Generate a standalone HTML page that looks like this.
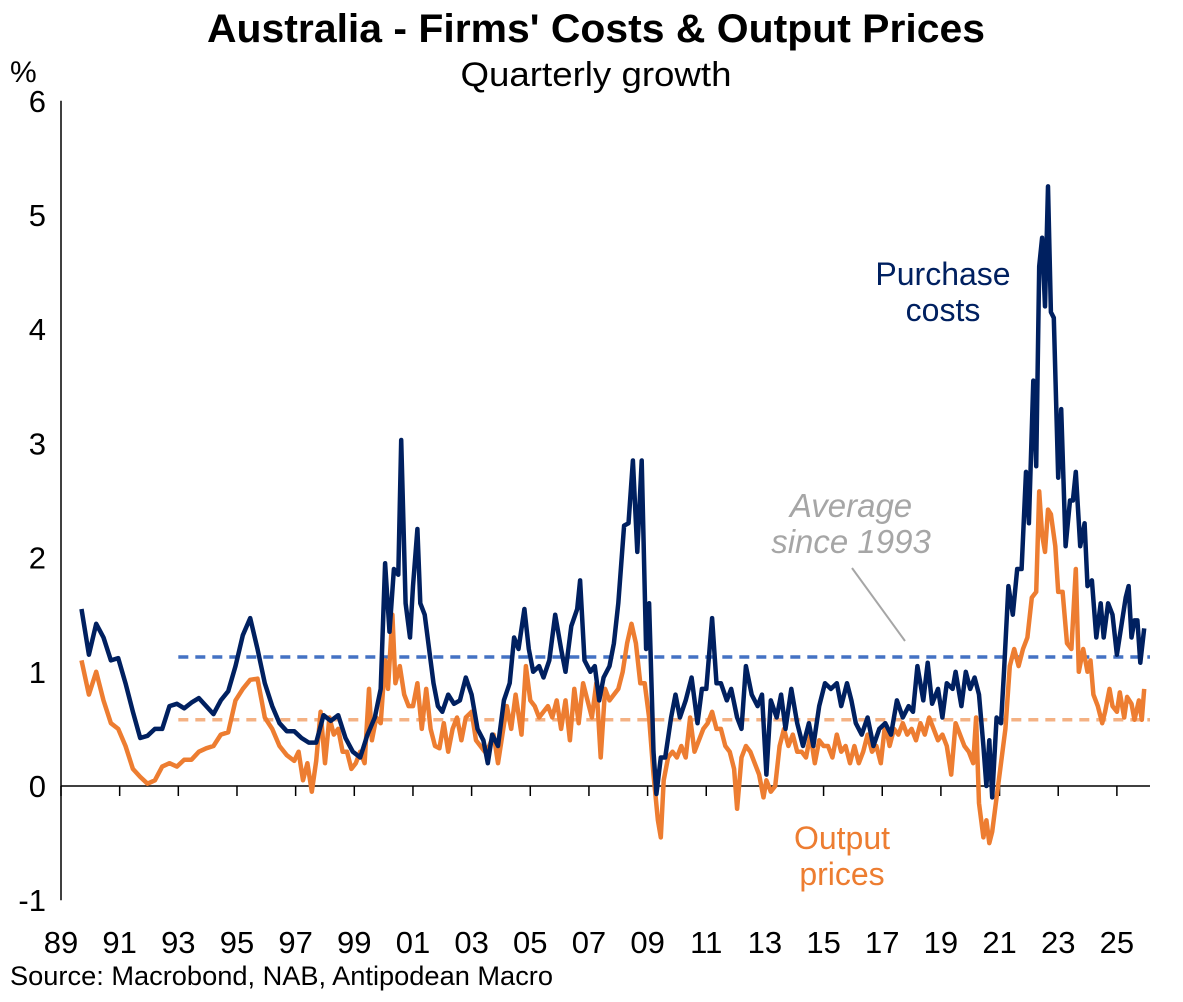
<!DOCTYPE html>
<html><head><meta charset="utf-8"><style>
body{margin:0;background:#fff;}
svg text{font-family:"Liberation Sans",Arial,sans-serif;}
</style></head><body>
<svg width="1183" height="997" xmlns="http://www.w3.org/2000/svg" id="chart">
<text x="596" y="42" font-size="40" font-weight="bold" text-anchor="middle" textLength="778" lengthAdjust="spacingAndGlyphs">Australia - Firms' Costs &amp; Output Prices</text>
<text x="596" y="86" font-size="34" text-anchor="middle" textLength="271" lengthAdjust="spacingAndGlyphs">Quarterly growth</text>
<text x="10" y="82" font-size="30">%</text>
<text x="10" y="985" font-size="27" textLength="543" lengthAdjust="spacingAndGlyphs">Source: Macrobond, NAB, Antipodean Macro</text>
<g id="axes"></g>
<g id="series"></g>
<text x="943" y="285" font-size="32" fill="#002060" text-anchor="middle">Purchase</text>
<text x="943" y="321" font-size="32" fill="#002060" text-anchor="middle">costs</text>
<text x="851" y="517" font-size="33" fill="#a6a6a6" font-style="italic" text-anchor="middle">Average</text>
<text x="851" y="553" font-size="33" fill="#a6a6a6" font-style="italic" text-anchor="middle">since 1993</text>
<line x1="852" y1="568" x2="905" y2="641" stroke="#a6a6a6" stroke-width="2"/>
<text x="842" y="849" font-size="32" fill="#ED7D31" text-anchor="middle">Output</text>
<text x="842" y="885" font-size="32" fill="#ED7D31" text-anchor="middle">prices</text>
</svg>
<script>
const yTicks=[-1,0,1,2,3,4,5,6];
const xTickYears=[1989,1991,1993,1995,1997,1999,2001,2003,2005,2007,2009,2011,2013,2015,2017,2019,2021,2023,2025];
const xTickLabels=["89","91","93","95","97","99","01","03","05","07","09","11","13","15","17","19","21","23","25"];
const avgStart=1993;
const avgPurchase=1.13;
const avgOutput=0.58;
const pDates=[1989.7,1989.95,1990.2,1990.45,1990.7,1990.95,1991.2,1991.45,1991.7,1991.95,1992.2,1992.45,1992.7,1992.95,1993.2,1993.45,1993.7,1993.95,1994.2,1994.45,1994.7,1994.95,1995.2,1995.45,1995.7,1995.95,1996.2,1996.45,1996.7,1996.95,1997.2,1997.45,1997.7,1997.95,1998.2,1998.45,1998.7,1998.95,1999.2,1999.45,1999.7,1999.9,2000.05,2000.2,2000.35,2000.5,2000.6,2000.75,2000.9,2001.0,2001.15,2001.25,2001.4,2001.55,2001.7,2001.85,2002,2002.2,2002.4,2002.6,2002.8,2003,2003.2,2003.4,2003.55,2003.7,2003.9,2004.1,2004.3,2004.45,2004.6,2004.8,2004.95,2005.1,2005.3,2005.45,2005.65,2005.85,2006.05,2006.2,2006.4,2006.6,2006.7,2006.85,2007.05,2007.2,2007.35,2007.5,2007.7,2007.85,2008.0,2008.2,2008.35,2008.5,2008.65,2008.8,2008.95,2009.05,2009.2,2009.3,2009.45,2009.6,2009.8,2009.95,2010.1,2010.3,2010.5,2010.7,2010.85,2011.0,2011.2,2011.35,2011.5,2011.7,2011.85,2012.05,2012.2,2012.35,2012.55,2012.75,2012.9,2013.05,2013.2,2013.4,2013.55,2013.7,2013.9,2014.1,2014.3,2014.5,2014.65,2014.85,2015.05,2015.25,2015.45,2015.6,2015.8,2015.95,2016.1,2016.3,2016.5,2016.7,2016.9,2017.1,2017.3,2017.5,2017.7,2017.9,2018.05,2018.2,2018.4,2018.55,2018.7,2018.9,2019.05,2019.2,2019.4,2019.5,2019.7,2019.85,2020.0,2020.15,2020.3,2020.45,2020.55,2020.65,2020.75,2020.9,2021.05,2021.15,2021.3,2021.45,2021.6,2021.75,2021.9,2022.0,2022.15,2022.25,2022.35,2022.45,2022.55,2022.65,2022.75,2022.85,2023.0,2023.1,2023.25,2023.4,2023.5,2023.6,2023.75,2023.9,2024.0,2024.15,2024.3,2024.45,2024.55,2024.7,2024.85,2025.0,2025.15,2025.3,2025.4,2025.5,2025.6,2025.7,2025.8,2025.93];
const pVals=[1.55,1.15,1.42,1.3,1.1,1.12,0.9,0.65,0.42,0.44,0.5,0.5,0.7,0.72,0.68,0.73,0.77,0.7,0.63,0.75,0.83,1.05,1.32,1.47,1.2,0.9,0.7,0.55,0.48,0.48,0.42,0.38,0.38,0.62,0.57,0.62,0.42,0.3,0.25,0.45,0.6,0.85,1.95,1.35,1.9,1.85,3.03,1.6,1.3,1.75,2.25,1.6,1.5,1.2,0.9,0.7,0.65,0.8,0.72,0.75,0.95,0.8,0.5,0.4,0.2,0.45,0.35,0.75,0.9,1.3,1.2,1.55,1.2,1.0,1.05,0.95,1.1,1.5,1.2,1.0,1.4,1.55,1.8,1.1,1.0,1.05,0.75,0.95,1.05,1.25,1.6,2.28,2.3,2.85,2.05,2.85,1.2,1.6,0.3,-0.07,0.25,0.25,0.6,0.8,0.6,0.75,0.95,0.55,0.85,0.85,1.47,0.9,0.9,0.75,0.85,0.6,0.5,1.05,0.8,0.7,0.8,0.1,0.75,0.6,0.8,0.5,0.85,0.55,0.35,0.55,0.35,0.7,0.9,0.85,0.9,0.7,0.9,0.75,0.55,0.45,0.6,0.35,0.5,0.55,0.45,0.75,0.6,0.7,0.65,1.05,0.75,1.08,0.72,0.85,0.6,0.9,0.85,1.0,0.7,1.0,0.85,0.95,0.8,0.35,0.0,0.4,-0.1,0.6,0.55,1.0,1.75,1.5,1.9,1.9,2.75,2.3,3.55,2.8,4.55,4.8,4.2,5.25,4.15,4.1,2.7,3.3,2.1,2.5,2.5,2.75,2.1,2.3,1.75,1.8,1.3,1.6,1.3,1.6,1.5,1.15,1.4,1.65,1.75,1.3,1.45,1.45,1.08,1.38];
const oDates=[1989.7,1989.95,1990.2,1990.45,1990.7,1990.95,1991.2,1991.45,1991.7,1991.95,1992.2,1992.45,1992.7,1992.95,1993.2,1993.45,1993.7,1993.95,1994.2,1994.45,1994.7,1994.95,1995.2,1995.45,1995.7,1995.95,1996.2,1996.45,1996.7,1996.95,1997.1,1997.25,1997.4,1997.55,1997.7,1997.85,1998.0,1998.15,1998.3,1998.45,1998.6,1998.75,1998.9,1999.05,1999.2,1999.35,1999.5,1999.6,1999.75,1999.9,2000.05,2000.15,2000.3,2000.4,2000.55,2000.7,2000.85,2001.0,2001.15,2001.3,2001.45,2001.6,2001.75,2001.9,2002.05,2002.2,2002.35,2002.5,2002.65,2002.8,2003.0,2003.15,2003.3,2003.45,2003.6,2003.75,2003.9,2004.05,2004.2,2004.35,2004.5,2004.7,2004.85,2005.0,2005.15,2005.3,2005.45,2005.6,2005.75,2005.9,2006.05,2006.2,2006.35,2006.5,2006.65,2006.8,2006.95,2007.1,2007.25,2007.4,2007.55,2007.7,2007.85,2008.0,2008.15,2008.3,2008.45,2008.6,2008.75,2008.9,2009.05,2009.2,2009.35,2009.45,2009.55,2009.7,2009.85,2010.0,2010.15,2010.3,2010.45,2010.6,2010.75,2010.9,2011.05,2011.2,2011.35,2011.5,2011.65,2011.8,2011.95,2012.05,2012.2,2012.35,2012.5,2012.65,2012.8,2012.95,2013.05,2013.2,2013.35,2013.5,2013.65,2013.8,2013.95,2014.1,2014.25,2014.4,2014.55,2014.7,2014.85,2015.0,2015.15,2015.3,2015.45,2015.6,2015.75,2015.9,2016.05,2016.2,2016.35,2016.5,2016.65,2016.8,2016.95,2017.1,2017.25,2017.4,2017.55,2017.7,2017.85,2018.0,2018.15,2018.3,2018.45,2018.6,2018.75,2018.9,2019.05,2019.2,2019.35,2019.5,2019.65,2019.8,2019.95,2020.1,2020.2,2020.3,2020.45,2020.55,2020.65,2020.75,2020.9,2021.05,2021.2,2021.35,2021.5,2021.65,2021.8,2021.95,2022.1,2022.25,2022.35,2022.45,2022.55,2022.65,2022.75,2022.9,2023.0,2023.15,2023.3,2023.45,2023.6,2023.7,2023.85,2024.0,2024.1,2024.2,2024.35,2024.5,2024.6,2024.75,2024.85,2025.0,2025.1,2025.25,2025.35,2025.5,2025.6,2025.75,2025.85,2025.93];
const oVals=[1.1,0.8,1.0,0.75,0.55,0.5,0.35,0.15,0.08,0.02,0.05,0.17,0.2,0.17,0.23,0.23,0.3,0.33,0.35,0.45,0.47,0.75,0.85,0.93,0.94,0.6,0.5,0.35,0.27,0.22,0.3,0.05,0.2,-0.05,0.22,0.65,0.2,0.6,0.45,0.5,0.3,0.3,0.15,0.2,0.3,0.2,0.85,0.4,0.6,0.55,1.1,0.85,1.5,0.9,1.05,0.8,0.7,0.7,0.9,0.5,0.85,0.5,0.35,0.33,0.55,0.3,0.5,0.6,0.4,0.6,0.65,0.4,0.35,0.3,0.35,0.45,0.2,0.45,0.7,0.5,0.8,0.45,1.05,0.75,0.7,0.6,0.65,0.7,0.6,0.75,0.5,0.75,0.4,0.85,0.55,0.9,0.75,0.6,0.9,0.25,0.85,0.75,0.8,0.85,1.0,1.25,1.42,1.25,0.9,0.9,0.6,0.1,-0.3,-0.45,0.05,0.25,0.3,0.25,0.35,0.25,0.6,0.3,0.4,0.5,0.55,0.65,0.5,0.5,0.35,0.3,0.15,-0.2,0.25,0.35,0.3,0.2,0.1,-0.1,0.05,-0.05,0.0,0.35,0.5,0.35,0.45,0.3,0.3,0.25,0.45,0.2,0.4,0.35,0.35,0.25,0.45,0.3,0.35,0.2,0.35,0.2,0.3,0.45,0.3,0.35,0.2,0.55,0.35,0.5,0.45,0.55,0.45,0.5,0.4,0.55,0.45,0.6,0.5,0.4,0.45,0.35,0.1,0.55,0.45,0.35,0.3,0.2,0.6,-0.15,-0.45,-0.3,-0.5,-0.4,-0.1,0.2,0.5,1.05,1.2,1.05,1.2,1.3,1.65,1.7,2.58,2.2,2.05,2.42,2.38,2.1,1.7,1.7,1.25,1.2,1.9,1.0,1.2,1.0,1.1,0.8,0.7,0.55,0.65,0.85,0.7,0.65,0.82,0.6,0.78,0.72,0.58,0.75,0.58,0.85];

const NS='http://www.w3.org/2000/svg';
const X0=61, YR0=1989, PXY=29.33, Y0=786, PXV=114.2;
function xs(t){return X0+(t-YR0)*PXY;}
function ys(v){return Y0-v*PXV;}
const axes=document.getElementById('axes'), series=document.getElementById('series');
function mk(tag,attrs,parent){const e=document.createElementNS(NS,tag);for(const k in attrs)e.setAttribute(k,attrs[k]);parent.appendChild(e);return e;}
const ya=mk('line',{x1:X0,y1:ys(6),x2:X0,y2:ys(-1),stroke:'#000','stroke-width':1.5},axes);


const xa=mk('line',{x1:X0,y1:Y0,x2:1150,y2:Y0,stroke:'#000','stroke-width':1.5},axes);


yTicks.forEach(v=>{
  const t=mk('text',{x:46,y:ys(v)+11,'font-size':31,'text-anchor':'end'},axes);
  t.textContent=String(v);
  
  
});
xTickYears.forEach((yr,i)=>{
  const l=mk('line',{x1:xs(yr),y1:Y0,x2:xs(yr),y2:Y0+10,stroke:'#000','stroke-width':1.5},axes);
  
  
  const t=mk('text',{x:xs(yr),y:953,'font-size':31,'text-anchor':'middle'},axes);
  t.textContent=xTickLabels[i];
  
  
});
const a1=mk('line',{x1:xs(avgStart),y1:ys(avgPurchase),x2:1150,y2:ys(avgPurchase),stroke:'#4472C4','stroke-width':3.5,'stroke-dasharray':'10 7'},series);


const a2=mk('line',{x1:xs(avgStart),y1:ys(avgOutput),x2:1150,y2:ys(avgOutput),stroke:'#F4B183','stroke-width':3.5,'stroke-dasharray':'10 7'},series);


function path(d,v){return d.map((t,i)=>(i?'L':'M')+xs(t).toFixed(1)+' '+ys(v[i]).toFixed(1)).join(' ');}
const po=mk('path',{d:path(oDates,oVals),fill:'none',stroke:'#ED7D31','stroke-width':4.5,'stroke-linejoin':'round'},series);


const pp=mk('path',{d:path(pDates,pVals),fill:'none',stroke:'#002060','stroke-width':4.5,'stroke-linejoin':'round'},series);


</script>
</body></html>
